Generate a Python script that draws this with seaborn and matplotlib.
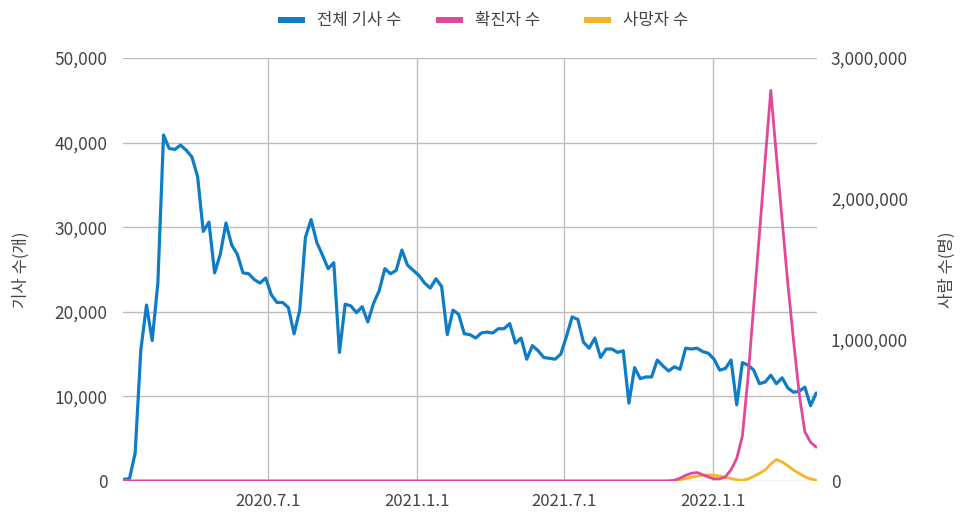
import matplotlib
matplotlib.use("Agg")
import matplotlib.pyplot as plt
import matplotlib.ticker as mticker
from matplotlib.lines import Line2D
import numpy as np
import pandas as pd
import seaborn as sns

# ---------------- data ----------------
start_date = "2020-01-05"
articles = [
    200, 270, 3300, 15500, 20800, 16600, 23400, 40900, 39300, 39200,
    39700, 39100, 38300, 36000, 29500, 30600, 24600, 26800, 30500, 27900,
    26800, 24600, 24500, 23800, 23400, 24000, 22000, 21100, 21100, 20500,
    17400, 20200, 28800, 30900, 28200, 26700, 25100, 25800, 15200, 20900,
    20700, 19900, 20600, 18800, 21000, 22500, 25100, 24500, 24900, 27300,
    25500, 24900, 24300, 23400, 22800, 23900, 23000, 17300, 20200, 19700,
    17400, 17300, 16900, 17500, 17600, 17500, 18000, 18000, 18600, 16300,
    16900, 14400, 16000, 15400, 14600, 14500, 14400, 15000, 17100, 19400,
    19100, 16400, 15700, 16900, 14600, 15600, 15600, 15200, 15400, 9200,
    13400, 12100, 12300, 12300, 14300, 13600, 13000, 13500, 13200, 15700,
    15600, 15700, 15300, 15100, 14400, 13100, 13300, 14300, 9000, 14000,
    13700, 13100, 11500, 11700, 12500, 11500, 12200, 11000, 10500, 10600,
    11100, 8900, 10400,
]
confirmed = [0] * 96 + [
    0, 5000, 20000, 40000, 55000, 60000, 45000, 28000, 15000, 15000,
    30000, 80000, 160000, 320000, 740000, 1250000, 1750000, 2270000, 2770000, 2300000,
    1850000, 1400000, 1000000, 620000, 350000, 275000, 240000,
]
deaths = [0] * 96 + [
    30, 80, 150, 300, 450, 580, 680, 720, 680, 580,
    420, 280, 150, 80, 250, 550, 900, 1300, 2000, 2550,
    2250, 1800, 1300, 900, 500, 250, 100,
]
series_names = ["전체 기사 수", "확진자 수", "사망자 수"]
colors = ["#0E7DC6", "#E4479A", "#F6B428"]
xtick_dates = ["2020-07-01", "2021-01-01", "2021-07-01", "2022-01-01"]
xtick_labels = ["2020.7.1", "2021.1.1", "2021.7.1", "2022.1.1"]
left_ticks = [0, 10000, 20000, 30000, 40000, 50000]
right_ticks = [0, 1000000, 2000000, 3000000]
left_label = "기사 수(개)"
right_label = "사람 수(명)"

dates = pd.date_range(start_date, periods=len(articles), freq="7D")
df = pd.DataFrame({"date": dates, "articles": articles,
                   "confirmed": confirmed, "deaths": deaths})

# ---------------- style ----------------
sns.set_theme(style="white")
plt.rcParams["font.family"] = ["Noto Sans CJK KR", "DejaVu Sans"]
text_color = "#444444"
grid_color = "#BDBDBD"

fig = plt.figure(figsize=(9.68, 5.27), dpi=100)
ax = fig.add_axes([123 / 968, 1 - 481 / 527, (817 - 123) / 968, (481 - 58) / 527])
ax2 = ax.twinx()

sns.lineplot(data=df, x="date", y="articles", ax=ax, color=colors[0], linewidth=2.3)
sns.lineplot(data=df, x="date", y="deaths", ax=ax, color=colors[2], linewidth=2.0)
sns.lineplot(data=df, x="date", y="confirmed", ax=ax2, color=colors[1], linewidth=2.0)

ax.set_ylim(0, 50000)
ax2.set_ylim(0, 3000000)
ax.set_xlim(dates[0] - pd.Timedelta(days=1), dates[-1] + pd.Timedelta(days=1))

ax.set_yticks(left_ticks)
ax2.set_yticks(right_ticks)
fmt = mticker.FuncFormatter(lambda v, p: f"{int(v):,}")
ax.yaxis.set_major_formatter(fmt)
ax2.yaxis.set_major_formatter(fmt)

ax.set_xticks(pd.to_datetime(xtick_dates))
ax.set_xticklabels(xtick_labels)

ax.grid(True, color=grid_color, linewidth=1.0)
ax2.grid(False)
for a in (ax, ax2):
    for s in a.spines.values():
        s.set_visible(False)
    a.tick_params(length=0, colors=text_color)
ax.tick_params(axis="y", pad=11, labelsize=12.5)
ax2.tick_params(axis="y", pad=10, labelsize=12.5)
ax.tick_params(axis="x", pad=9, labelsize=12)

ax.set_xlabel("")
ax.set_ylabel(left_label, color=text_color, fontsize=12, labelpad=18)
ax2.set_ylabel(right_label, color=text_color, fontsize=12, labelpad=22, rotation=90)

handle_x = [278, 436, 584]
for name, c, hx in zip(series_names, colors, handle_x):
    h = Line2D([0], [0], color=c, linewidth=4.3, solid_capstyle="butt")
    fig.legend([h], [name], loc="center left", bbox_to_anchor=(hx / 968, 1 - 21 / 527),
               frameon=False, fontsize=12, handlelength=1.62, handletextpad=0.7,
               borderpad=0, borderaxespad=0, labelcolor=text_color)

fig.savefig("out.png", dpi=100)
